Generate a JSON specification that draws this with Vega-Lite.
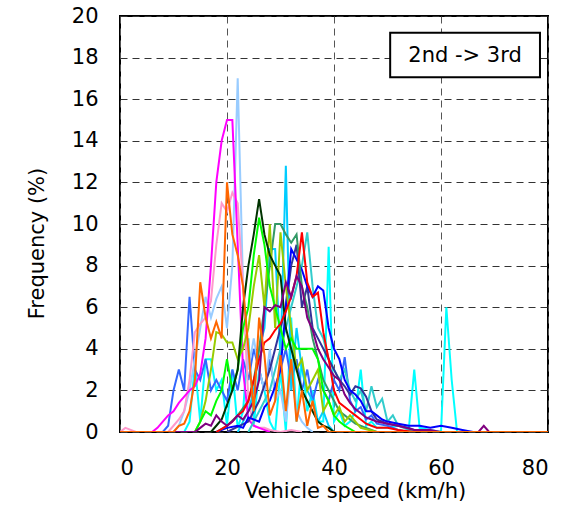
{
"$schema":"https://vega.github.io/schema/vega-lite/v6.json",
"width":428,"height":416,
"autosize":{"type":"none"},
"padding":{"left":120,"top":16,"right":25,"bottom":75},
"background":"white",
"config":{"view":{"stroke":"black","strokeWidth":2},"font":"DejaVu Sans",
"axis":{"labelFont":"DejaVu Sans","labelFontSize":21,"labelColor":"black","titleFont":"DejaVu Sans","titleFontSize":21,"titleFontWeight":"normal","titleColor":"black","ticks":false,"domain":false,"grid":true,"gridColor":"#333333","gridDash":[7,5],"gridWidth":1}},
"datasets":{
"lines":[
{"s":"s01","x":0,"y":0},{"s":"s01","x":12,"y":0},{"s":"s01","x":13,"y":0.5},{"s":"s01","x":14,"y":3.2},{"s":"s01","x":15,"y":0.5},{"s":"s01","x":16,"y":3.5},{"s":"s01","x":17,"y":3.5},{"s":"s01","x":18,"y":2},{"s":"s01","x":19,"y":2.5},{"s":"s01","x":20,"y":0.3},{"s":"s01","x":21,"y":3},{"s":"s01","x":22,"y":0.2},{"s":"s01","x":23,"y":1},{"s":"s01","x":24,"y":4.5},{"s":"s01","x":25,"y":0.3},{"s":"s01","x":26,"y":3},{"s":"s01","x":27,"y":2},{"s":"s01","x":28,"y":0.5},{"s":"s01","x":29,"y":0},{"s":"s01","x":30,"y":3},{"s":"s01","x":31,"y":0},{"s":"s01","x":32,"y":5.5},{"s":"s01","x":33,"y":0.5},{"s":"s01","x":34,"y":3.5},{"s":"s01","x":35,"y":1},{"s":"s01","x":36,"y":2},{"s":"s01","x":37,"y":0.5},{"s":"s01","x":38,"y":0.5},{"s":"s01","x":39,"y":8.9},{"s":"s01","x":40,"y":0.5},{"s":"s01","x":41,"y":1},{"s":"s01","x":42,"y":0.3},{"s":"s01","x":43,"y":0.5},{"s":"s01","x":44,"y":1},{"s":"s01","x":45,"y":3},{"s":"s01","x":46,"y":0.3},{"s":"s01","x":47,"y":0.5},{"s":"s01","x":48,"y":0.2},{"s":"s01","x":50,"y":0.2},{"s":"s01","x":52,"y":0.3},{"s":"s01","x":54,"y":0.2},{"s":"s01","x":55,"y":3},{"s":"s01","x":56,"y":0.2},{"s":"s01","x":58,"y":0.1},{"s":"s01","x":60,"y":0},{"s":"s01","x":61,"y":6},{"s":"s01","x":62,"y":2.5},{"s":"s01","x":63,"y":0},{"s":"s01","x":80,"y":0},
{"s":"s02","x":0,"y":0},{"s":"s02","x":8,"y":0},{"s":"s02","x":9,"y":0.3},{"s":"s02","x":10,"y":2},{"s":"s02","x":11,"y":3},{"s":"s02","x":12,"y":2},{"s":"s02","x":13,"y":6.5},{"s":"s02","x":14,"y":3},{"s":"s02","x":15,"y":2.5},{"s":"s02","x":16,"y":3.5},{"s":"s02","x":17,"y":2},{"s":"s02","x":18,"y":2.5},{"s":"s02","x":19,"y":2},{"s":"s02","x":20,"y":1.5},{"s":"s02","x":21,"y":3},{"s":"s02","x":22,"y":2},{"s":"s02","x":23,"y":3.5},{"s":"s02","x":24,"y":2.5},{"s":"s02","x":25,"y":4},{"s":"s02","x":26,"y":3},{"s":"s02","x":27,"y":2},{"s":"s02","x":28,"y":3.5},{"s":"s02","x":29,"y":2},{"s":"s02","x":30,"y":3},{"s":"s02","x":31,"y":4},{"s":"s02","x":32,"y":2.5},{"s":"s02","x":33,"y":3.5},{"s":"s02","x":34,"y":2},{"s":"s02","x":35,"y":3},{"s":"s02","x":36,"y":1.5},{"s":"s02","x":37,"y":2.5},{"s":"s02","x":38,"y":2},{"s":"s02","x":39,"y":1.5},{"s":"s02","x":40,"y":2.5},{"s":"s02","x":41,"y":2},{"s":"s02","x":42,"y":3.6},{"s":"s02","x":43,"y":1.5},{"s":"s02","x":44,"y":1},{"s":"s02","x":45,"y":1.2},{"s":"s02","x":46,"y":0.6},{"s":"s02","x":47,"y":0.8},{"s":"s02","x":48,"y":0.4},{"s":"s02","x":50,"y":0.3},{"s":"s02","x":52,"y":0.1},{"s":"s02","x":54,"y":0},
{"s":"s03","x":10,"y":0},{"s":"s03","x":11,"y":0.3},{"s":"s03","x":12,"y":1},{"s":"s03","x":13,"y":2},{"s":"s03","x":14,"y":3.5},{"s":"s03","x":15,"y":5},{"s":"s03","x":16,"y":6.5},{"s":"s03","x":17,"y":5.5},{"s":"s03","x":18,"y":6.4},{"s":"s03","x":19,"y":7},{"s":"s03","x":20,"y":5},{"s":"s03","x":21,"y":8},{"s":"s03","x":22,"y":17},{"s":"s03","x":23,"y":7},{"s":"s03","x":24,"y":3},{"s":"s03","x":25,"y":4.5},{"s":"s03","x":26,"y":3},{"s":"s03","x":27,"y":2},{"s":"s03","x":28,"y":4},{"s":"s03","x":29,"y":1.5},{"s":"s03","x":30,"y":2},{"s":"s03","x":31,"y":0.5},{"s":"s03","x":32,"y":3},{"s":"s03","x":33,"y":1},{"s":"s03","x":34,"y":0.5},{"s":"s03","x":35,"y":0.2},{"s":"s03","x":36,"y":0},
{"s":"s04","x":0,"y":0},{"s":"s04","x":1,"y":0.2},{"s":"s04","x":2,"y":0.1},{"s":"s04","x":3,"y":0},{"s":"s04","x":9,"y":0},{"s":"s04","x":10,"y":0.3},{"s":"s04","x":11,"y":0.6},{"s":"s04","x":12,"y":1},{"s":"s04","x":13,"y":2.5},{"s":"s04","x":14,"y":4.8},{"s":"s04","x":15,"y":5.2},{"s":"s04","x":16,"y":5.5},{"s":"s04","x":17,"y":6.3},{"s":"s04","x":18,"y":9},{"s":"s04","x":19,"y":11},{"s":"s04","x":20,"y":10.6},{"s":"s04","x":21,"y":11.5},{"s":"s04","x":22,"y":11},{"s":"s04","x":23,"y":7},{"s":"s04","x":24,"y":1.5},{"s":"s04","x":25,"y":0.3},{"s":"s04","x":26,"y":0.2},{"s":"s04","x":27,"y":0.2},{"s":"s04","x":28,"y":0.1},{"s":"s04","x":30,"y":0},{"s":"s04","x":32,"y":0.1},{"s":"s04","x":34,"y":0},
{"s":"s05","x":6,"y":0},{"s":"s05","x":7,"y":0.2},{"s":"s05","x":8,"y":0.5},{"s":"s05","x":9,"y":0.8},{"s":"s05","x":10,"y":1},{"s":"s05","x":11,"y":1.4},{"s":"s05","x":12,"y":1.7},{"s":"s05","x":13,"y":2},{"s":"s05","x":14,"y":2.2},{"s":"s05","x":15,"y":2.8},{"s":"s05","x":16,"y":4.5},{"s":"s05","x":17,"y":8},{"s":"s05","x":18,"y":12},{"s":"s05","x":19,"y":14},{"s":"s05","x":20,"y":15},{"s":"s05","x":21,"y":15},{"s":"s05","x":22,"y":9},{"s":"s05","x":23,"y":3},{"s":"s05","x":24,"y":0.6},{"s":"s05","x":25,"y":0.3},{"s":"s05","x":26,"y":0.2},{"s":"s05","x":27,"y":0.1},{"s":"s05","x":28,"y":0},
{"s":"s06","x":22,"y":0},{"s":"s06","x":23,"y":0.5},{"s":"s06","x":24,"y":1},{"s":"s06","x":25,"y":2},{"s":"s06","x":26,"y":4},{"s":"s06","x":27,"y":5},{"s":"s06","x":28,"y":8.8},{"s":"s06","x":29,"y":8.8},{"s":"s06","x":30,"y":3.5},{"s":"s06","x":31,"y":12.8},{"s":"s06","x":32,"y":2},{"s":"s06","x":33,"y":5},{"s":"s06","x":34,"y":3},{"s":"s06","x":35,"y":2},{"s":"s06","x":36,"y":1.5},{"s":"s06","x":37,"y":0.5},{"s":"s06","x":38,"y":1},{"s":"s06","x":39,"y":0.3},{"s":"s06","x":40,"y":0},
{"s":"s07","x":24,"y":0},{"s":"s07","x":26,"y":1},{"s":"s07","x":28,"y":2},{"s":"s07","x":30,"y":4},{"s":"s07","x":31,"y":5},{"s":"s07","x":32,"y":6},{"s":"s07","x":33,"y":7},{"s":"s07","x":34,"y":8},{"s":"s07","x":35,"y":9.6},{"s":"s07","x":36,"y":7},{"s":"s07","x":37,"y":5},{"s":"s07","x":38,"y":4.5},{"s":"s07","x":39,"y":3.5},{"s":"s07","x":40,"y":3},{"s":"s07","x":41,"y":2.5},{"s":"s07","x":42,"y":3},{"s":"s07","x":43,"y":2},{"s":"s07","x":44,"y":1.5},{"s":"s07","x":45,"y":2},{"s":"s07","x":46,"y":1},{"s":"s07","x":47,"y":2.2},{"s":"s07","x":48,"y":1.2},{"s":"s07","x":49,"y":1.6},{"s":"s07","x":50,"y":0.5},{"s":"s07","x":51,"y":0.8},{"s":"s07","x":52,"y":0.3},{"s":"s07","x":53,"y":0.2},{"s":"s07","x":55,"y":0},
{"s":"s08","x":20,"y":0},{"s":"s08","x":24,"y":0.5},{"s":"s08","x":26,"y":1.5},{"s":"s08","x":28,"y":3},{"s":"s08","x":30,"y":5},{"s":"s08","x":31,"y":6},{"s":"s08","x":32,"y":8},{"s":"s08","x":33,"y":9},{"s":"s08","x":34,"y":6},{"s":"s08","x":35,"y":7},{"s":"s08","x":36,"y":5},{"s":"s08","x":37,"y":4.5},{"s":"s08","x":38,"y":4},{"s":"s08","x":39,"y":3.5},{"s":"s08","x":40,"y":3},{"s":"s08","x":41,"y":2.5},{"s":"s08","x":42,"y":2.2},{"s":"s08","x":43,"y":1.8},{"s":"s08","x":44,"y":2.2},{"s":"s08","x":45,"y":2.1},{"s":"s08","x":46,"y":1.7},{"s":"s08","x":47,"y":1},{"s":"s08","x":48,"y":0.6},{"s":"s08","x":50,"y":0.4},{"s":"s08","x":52,"y":0.3},{"s":"s08","x":54,"y":0.2},{"s":"s08","x":56,"y":0},
{"s":"s09","x":18,"y":0},{"s":"s09","x":20,"y":0.2},{"s":"s09","x":22,"y":0.3},{"s":"s09","x":23,"y":0.2},{"s":"s09","x":24,"y":0.7},{"s":"s09","x":25,"y":0.6},{"s":"s09","x":26,"y":0.5},{"s":"s09","x":27,"y":1.2},{"s":"s09","x":28,"y":1.5},{"s":"s09","x":29,"y":2.2},{"s":"s09","x":30,"y":3},{"s":"s09","x":31,"y":6},{"s":"s09","x":32,"y":8.8},{"s":"s09","x":33,"y":8.3},{"s":"s09","x":34,"y":7.8},{"s":"s09","x":35,"y":7},{"s":"s09","x":36,"y":6.5},{"s":"s09","x":37,"y":7},{"s":"s09","x":38,"y":6.8},{"s":"s09","x":39,"y":5},{"s":"s09","x":40,"y":4},{"s":"s09","x":41,"y":3.5},{"s":"s09","x":42,"y":2.5},{"s":"s09","x":43,"y":2},{"s":"s09","x":44,"y":1.8},{"s":"s09","x":45,"y":1.5},{"s":"s09","x":46,"y":1},{"s":"s09","x":47,"y":1},{"s":"s09","x":48,"y":0.8},{"s":"s09","x":49,"y":0.6},{"s":"s09","x":50,"y":0.5},{"s":"s09","x":52,"y":0.4},{"s":"s09","x":54,"y":0.3},{"s":"s09","x":56,"y":0.3},{"s":"s09","x":58,"y":0.2},{"s":"s09","x":60,"y":0.3},{"s":"s09","x":62,"y":0.2},{"s":"s09","x":64,"y":0.1},{"s":"s09","x":66,"y":0},
{"s":"s10","x":18,"y":0},{"s":"s10","x":20,"y":0.3},{"s":"s10","x":22,"y":0.8},{"s":"s10","x":24,"y":1.5},{"s":"s10","x":25,"y":2.5},{"s":"s10","x":26,"y":4},{"s":"s10","x":27,"y":6},{"s":"s10","x":28,"y":8},{"s":"s10","x":29,"y":10},{"s":"s10","x":30,"y":10},{"s":"s10","x":31,"y":9.5},{"s":"s10","x":32,"y":9.1},{"s":"s10","x":33,"y":9.5},{"s":"s10","x":34,"y":7},{"s":"s10","x":35,"y":6},{"s":"s10","x":36,"y":4.5},{"s":"s10","x":37,"y":3.5},{"s":"s10","x":38,"y":2.5},{"s":"s10","x":39,"y":2},{"s":"s10","x":40,"y":1.5},{"s":"s10","x":41,"y":1},{"s":"s10","x":42,"y":0.8},{"s":"s10","x":43,"y":0.6},{"s":"s10","x":44,"y":0.4},{"s":"s10","x":46,"y":0.2},{"s":"s10","x":48,"y":0},
{"s":"s11","x":14,"y":0},{"s":"s11","x":15,"y":0.5},{"s":"s11","x":16,"y":1.5},{"s":"s11","x":17,"y":3},{"s":"s11","x":18,"y":4.8},{"s":"s11","x":19,"y":4.7},{"s":"s11","x":20,"y":4.3},{"s":"s11","x":21,"y":4.3},{"s":"s11","x":22,"y":3.5},{"s":"s11","x":23,"y":4},{"s":"s11","x":24,"y":5},{"s":"s11","x":25,"y":7},{"s":"s11","x":26,"y":8.5},{"s":"s11","x":27,"y":6},{"s":"s11","x":28,"y":10},{"s":"s11","x":29,"y":5},{"s":"s11","x":30,"y":9.6},{"s":"s11","x":31,"y":7},{"s":"s11","x":32,"y":5},{"s":"s11","x":33,"y":3},{"s":"s11","x":34,"y":3.5},{"s":"s11","x":35,"y":2},{"s":"s11","x":36,"y":2.5},{"s":"s11","x":37,"y":3},{"s":"s11","x":38,"y":1},{"s":"s11","x":39,"y":1.5},{"s":"s11","x":40,"y":0.8},{"s":"s11","x":41,"y":1.2},{"s":"s11","x":42,"y":0.5},{"s":"s11","x":43,"y":0.8},{"s":"s11","x":45,"y":0.2},{"s":"s11","x":48,"y":0},
{"s":"s12","x":14,"y":0},{"s":"s12","x":15,"y":0.5},{"s":"s12","x":16,"y":1},{"s":"s12","x":17,"y":0.8},{"s":"s12","x":18,"y":1.5},{"s":"s12","x":19,"y":2},{"s":"s12","x":20,"y":3.5},{"s":"s12","x":21,"y":2},{"s":"s12","x":22,"y":3},{"s":"s12","x":23,"y":5},{"s":"s12","x":24,"y":6},{"s":"s12","x":25,"y":8.5},{"s":"s12","x":26,"y":10.3},{"s":"s12","x":27,"y":9},{"s":"s12","x":28,"y":7},{"s":"s12","x":29,"y":6},{"s":"s12","x":30,"y":5},{"s":"s12","x":31,"y":4},{"s":"s12","x":32,"y":4.5},{"s":"s12","x":33,"y":4},{"s":"s12","x":34,"y":4},{"s":"s12","x":35,"y":4},{"s":"s12","x":36,"y":4},{"s":"s12","x":37,"y":3.5},{"s":"s12","x":38,"y":2},{"s":"s12","x":39,"y":1.5},{"s":"s12","x":40,"y":0.8},{"s":"s12","x":41,"y":0.5},{"s":"s12","x":42,"y":0.3},{"s":"s12","x":44,"y":0},
{"s":"s13","x":17,"y":0},{"s":"s13","x":18,"y":0.3},{"s":"s13","x":19,"y":0.6},{"s":"s13","x":20,"y":1.3},{"s":"s13","x":21,"y":2},{"s":"s13","x":22,"y":3},{"s":"s13","x":23,"y":6},{"s":"s13","x":24,"y":8},{"s":"s13","x":25,"y":9.5},{"s":"s13","x":26,"y":11.2},{"s":"s13","x":27,"y":9.5},{"s":"s13","x":28,"y":8.5},{"s":"s13","x":29,"y":8},{"s":"s13","x":30,"y":7.5},{"s":"s13","x":31,"y":5},{"s":"s13","x":32,"y":4},{"s":"s13","x":33,"y":3},{"s":"s13","x":34,"y":2},{"s":"s13","x":35,"y":1.5},{"s":"s13","x":36,"y":1},{"s":"s13","x":37,"y":0.5},{"s":"s13","x":38,"y":0.3},{"s":"s13","x":39,"y":0.2},{"s":"s13","x":40,"y":0},
{"s":"s14","x":18,"y":0},{"s":"s14","x":20,"y":0.3},{"s":"s14","x":21,"y":0.5},{"s":"s14","x":22,"y":0.8},{"s":"s14","x":23,"y":1},{"s":"s14","x":24,"y":1.5},{"s":"s14","x":25,"y":2.5},{"s":"s14","x":26,"y":3.5},{"s":"s14","x":27,"y":4.3},{"s":"s14","x":28,"y":4.5},{"s":"s14","x":29,"y":4.9},{"s":"s14","x":30,"y":5.2},{"s":"s14","x":31,"y":5.8},{"s":"s14","x":32,"y":6.5},{"s":"s14","x":33,"y":7.5},{"s":"s14","x":34,"y":9.6},{"s":"s14","x":35,"y":7.2},{"s":"s14","x":36,"y":6.5},{"s":"s14","x":37,"y":6.7},{"s":"s14","x":38,"y":4.8},{"s":"s14","x":39,"y":3.5},{"s":"s14","x":40,"y":2},{"s":"s14","x":41,"y":1.4},{"s":"s14","x":42,"y":1.2},{"s":"s14","x":43,"y":1},{"s":"s14","x":44,"y":0.8},{"s":"s14","x":45,"y":0.6},{"s":"s14","x":46,"y":0.4},{"s":"s14","x":47,"y":0.3},{"s":"s14","x":48,"y":0.2},{"s":"s14","x":50,"y":0.2},{"s":"s14","x":52,"y":0.1},{"s":"s14","x":55,"y":0},
{"s":"s15","x":0,"y":0},{"s":"s15","x":14,"y":0},{"s":"s15","x":15,"y":0.2},{"s":"s15","x":16,"y":0.4},{"s":"s15","x":17,"y":0.3},{"s":"s15","x":18,"y":0.8},{"s":"s15","x":19,"y":0.5},{"s":"s15","x":20,"y":0.3},{"s":"s15","x":21,"y":0.5},{"s":"s15","x":22,"y":0.8},{"s":"s15","x":23,"y":0.6},{"s":"s15","x":24,"y":1},{"s":"s15","x":25,"y":1.5},{"s":"s15","x":26,"y":2.5},{"s":"s15","x":27,"y":6},{"s":"s15","x":28,"y":5.8},{"s":"s15","x":29,"y":6.1},{"s":"s15","x":30,"y":6},{"s":"s15","x":31,"y":7.2},{"s":"s15","x":32,"y":6.5},{"s":"s15","x":33,"y":7.5},{"s":"s15","x":34,"y":7},{"s":"s15","x":35,"y":5.5},{"s":"s15","x":36,"y":4.9},{"s":"s15","x":37,"y":4},{"s":"s15","x":38,"y":3.5},{"s":"s15","x":39,"y":3.1},{"s":"s15","x":40,"y":2.7},{"s":"s15","x":41,"y":2.5},{"s":"s15","x":42,"y":1.8},{"s":"s15","x":43,"y":1.4},{"s":"s15","x":44,"y":1.1},{"s":"s15","x":45,"y":0.9},{"s":"s15","x":46,"y":0.7},{"s":"s15","x":47,"y":0.6},{"s":"s15","x":48,"y":0.5},{"s":"s15","x":50,"y":0.4},{"s":"s15","x":52,"y":0.3},{"s":"s15","x":55,"y":0.1},{"s":"s15","x":58,"y":0.1},{"s":"s15","x":60,"y":0},{"s":"s15","x":67,"y":0},{"s":"s15","x":68,"y":0.3},{"s":"s15","x":69,"y":0},{"s":"s15","x":80,"y":0},
{"s":"s16","x":0,"y":0},{"s":"s16","x":10,"y":0},{"s":"s16","x":11,"y":0.3},{"s":"s16","x":12,"y":0.4},{"s":"s16","x":13,"y":1},{"s":"s16","x":14,"y":2.5},{"s":"s16","x":15,"y":7.2},{"s":"s16","x":16,"y":5.5},{"s":"s16","x":17,"y":4.5},{"s":"s16","x":18,"y":5.3},{"s":"s16","x":19,"y":4.5},{"s":"s16","x":20,"y":12},{"s":"s16","x":21,"y":9.5},{"s":"s16","x":22,"y":8.5},{"s":"s16","x":23,"y":7},{"s":"s16","x":24,"y":4},{"s":"s16","x":25,"y":1},{"s":"s16","x":26,"y":5.5},{"s":"s16","x":27,"y":3.7},{"s":"s16","x":28,"y":0.8},{"s":"s16","x":29,"y":1.5},{"s":"s16","x":30,"y":3.7},{"s":"s16","x":31,"y":1},{"s":"s16","x":32,"y":3.5},{"s":"s16","x":33,"y":0.5},{"s":"s16","x":34,"y":2},{"s":"s16","x":35,"y":0.3},{"s":"s16","x":36,"y":1.5},{"s":"s16","x":37,"y":0.2},{"s":"s16","x":38,"y":0.3},{"s":"s16","x":39,"y":0},{"s":"s16","x":80,"y":0}
],
"box":[{"x1":50.5,"x2":78.5,"y1":19.2,"y2":17.05,"xc":64.5,"yc":18.1,"t":"2nd -> 3rd"}]
},
"layer":[
{"data":{"name":"lines"},"mark":{"type":"line","strokeWidth":2,"clip":true},
"encoding":{
"x":{"field":"x","type":"quantitative","scale":{"domain":[0,80],"nice":false},"axis":{"values":[0,20,40,60,80],"title":"Vehicle speed (km/h)","labelPadding":25,"titlePadding":2,"titleX":235,"gridColor":"#555555"}},
"y":{"field":"y","type":"quantitative","scale":{"domain":[0,20],"nice":false},"axis":{"values":[0,2,4,6,8,10,12,14,16,18,20],"title":"Frequency (%)","labelPadding":22,"titlePadding":24,"titleY":227}},
"color":{"field":"s","type":"nominal","legend":null,"scale":{"domain":["s01","s02","s03","s04","s05","s06","s07","s08","s09","s10","s11","s12","s13","s14","s15","s16"],"range":["#00FFFF","#3366FF","#99CCFF","#FF99CC","#FF00FF","#00CCFF","#33CCCC","#333399","#0000FF","#339966","#99CC00","#00FF00","#003300","#FF0000","#800080","#FF6600"]}}
}},
{"data":{"name":"box"},"mark":{"type":"rect","fill":"white","stroke":"black","strokeWidth":2},
"encoding":{"x":{"field":"x1","type":"quantitative"},"x2":{"field":"x2"},"y":{"field":"y1","type":"quantitative"},"y2":{"field":"y2"}}},
{"data":{"name":"box"},"mark":{"type":"text","font":"DejaVu Sans","fontSize":21,"color":"black","align":"center","baseline":"middle"},
"encoding":{"x":{"field":"xc","type":"quantitative"},"y":{"field":"yc","type":"quantitative"},"text":{"field":"t"}}}
]
}
